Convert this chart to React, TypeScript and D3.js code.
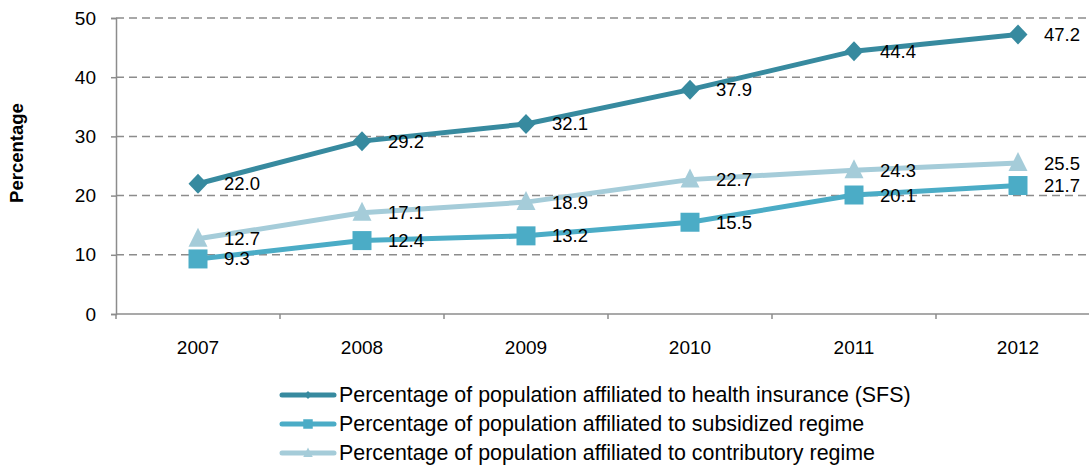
import React, { useEffect, useRef } from 'react';
import * as d3 from 'd3';

const years = ['2007', '2008', '2009', '2010', '2011', '2012'];
const sfs = [22.0, 29.2, 32.1, 37.9, 44.4, 47.2];
const subsidized = [9.3, 12.4, 13.2, 15.5, 20.1, 21.7];
const contributory = [12.7, 17.1, 18.9, 22.7, 24.3, 25.5];
const yTicks = [0, 10, 20, 30, 40, 50];

const seriesNames = [
  'Percentage of population affiliated to health insurance (SFS)',
  'Percentage of population affiliated to subsidized regime',
  'Percentage of population affiliated to contributory regime',
];
const seriesColors = ['#378A9F', '#4BACC6', '#A5CCD9'];
const seriesShapes = ['diamond', 'square', 'triangle'];

// marker path centred at 0,0, scaled by s
function marker(kind: string, s: number) {
  const p = d3.path();
  if (kind === 'diamond') {
    p.moveTo(0, -10 * s);
    p.lineTo(9.5 * s, 0);
    p.lineTo(0, 10 * s);
    p.lineTo(-9.5 * s, 0);
  } else if (kind === 'square') {
    p.rect(-9.5 * s, -9.5 * s, 19 * s, 19 * s);
  } else {
    p.moveTo(0, -11 * s);
    p.lineTo(9.5 * s, 8 * s);
    p.lineTo(-9.5 * s, 8 * s);
  }
  p.closePath();
  return p.toString();
}

export default function App() {
  const ref = useRef<SVGSVGElement>(null);

  useEffect(() => {
    if (!ref.current) return;
    const svg = d3.select(ref.current);
    svg.selectAll('*').remove();

    const width = 1089;
    const margin = { top: 18, left: 116, bottom: 314, right: 1100 };
    const font = 'Liberation Sans, Arial, sans-serif';

    const x = d3.scalePoint<string>().domain(years).range([margin.left, margin.right]).padding(0.5);
    const y = d3.scaleLinear().domain([0, 50]).range([margin.bottom, margin.top]);

    // ------- Grid -------
    svg
      .append('g')
      .selectAll('line')
      .data(yTicks.filter((d) => d > 0))
      .enter()
      .append('line')
      .attr('x1', margin.left)
      .attr('x2', width)
      .attr('y1', (d) => y(d))
      .attr('y2', (d) => y(d))
      .attr('stroke', '#8c8c8c')
      .attr('stroke-width', 1.5)
      .attr('stroke-dasharray', '8,5');

    // ------- Axes -------
    const yAxis = svg
      .append('g')
      .attr('transform', `translate(${margin.left},0)`)
      .call(d3.axisLeft(y).tickValues(yTicks).tickSize(5).tickPadding(15));
    yAxis.select('.domain').attr('stroke', '#8c8c8c').attr('stroke-width', 1.5);
    yAxis.selectAll('.tick line').attr('stroke', '#8c8c8c').attr('stroke-width', 1.5);
    yAxis.selectAll('.tick text').attr('font-family', font).attr('font-size', 19).attr('fill', '#000');

    const bounds = d3.range(years.length + 1).map((i) => margin.left + x.step() * i);
    const xg = svg.append('g');
    xg.append('line')
      .attr('x1', margin.left)
      .attr('x2', width)
      .attr('y1', margin.bottom)
      .attr('y2', margin.bottom)
      .attr('stroke', '#8c8c8c')
      .attr('stroke-width', 1.5);
    xg.selectAll('line.tk')
      .data(bounds)
      .enter()
      .append('line')
      .attr('class', 'tk')
      .attr('x1', (d) => d)
      .attr('x2', (d) => d)
      .attr('y1', margin.bottom)
      .attr('y2', margin.bottom + 5)
      .attr('stroke', '#8c8c8c')
      .attr('stroke-width', 1.5);
    xg.selectAll('text')
      .data(years)
      .enter()
      .append('text')
      .attr('x', (d) => x(d)!)
      .attr('y', 354)
      .attr('text-anchor', 'middle')
      .attr('font-family', font)
      .attr('font-size', 19)
      .text((d) => d);

    svg
      .append('text')
      .attr('transform', 'translate(23,153) rotate(-90)')
      .attr('text-anchor', 'middle')
      .attr('font-family', font)
      .attr('font-size', 18.5)
      .attr('font-weight', 'bold')
      .text('Percentage');

    // ------- Series -------
    const allSeries = [sfs, subsidized, contributory];
    const drawOrder = [2, 1, 0];
    drawOrder.forEach((si) => {
      const vals = allSeries[si];
      const line = d3
        .line<number>()
        .x((_, i) => x(years[i])!)
        .y((d) => y(d));
      svg
        .append('path')
        .datum(vals)
        .attr('fill', 'none')
        .attr('stroke', seriesColors[si])
        .attr('stroke-width', 5)
        .attr('d', line);
      svg
        .append('g')
        .selectAll('path')
        .data(vals)
        .enter()
        .append('path')
        .attr('transform', (d, i) => `translate(${x(years[i])},${y(d)})`)
        .attr('d', marker(seriesShapes[si], 1))
        .attr('fill', seriesColors[si]);
    });

    allSeries.forEach((vals) => {
      svg
        .append('g')
        .selectAll('text')
        .data(vals)
        .enter()
        .append('text')
        .attr('x', (d, i) => x(years[i])! + 26)
        .attr('y', (d) => y(d) + 6.5)
        .attr('font-family', font)
        .attr('font-size', 18.5)
        .text((d) => d.toFixed(1));
    });

    // ------- Legend -------
    const legend = svg.append('g');
    seriesNames.forEach((name, si) => {
      const ly = 395 + si * 29;
      legend
        .append('line')
        .attr('x1', 282)
        .attr('x2', 334)
        .attr('y1', ly)
        .attr('y2', ly)
        .attr('stroke', seriesColors[si])
        .attr('stroke-width', 5)
        .attr('stroke-linecap', 'round');
      legend
        .append('path')
        .attr('transform', `translate(308,${ly})`)
        .attr('d', marker(seriesShapes[si], si === 0 ? 0.4 : 0.5))
        .attr('fill', seriesColors[si]);
      legend
        .append('text')
        .attr('x', 339)
        .attr('y', ly + 7)
        .attr('font-family', font)
        .attr('font-size', 21.4)
        .text(name);
    });
  }, []);

  return (
    <svg
      ref={ref}
      width={1089}
      height={465}
      style={{ position: 'absolute', left: 0, top: 0, background: '#fff' }}
    />
  );
}
